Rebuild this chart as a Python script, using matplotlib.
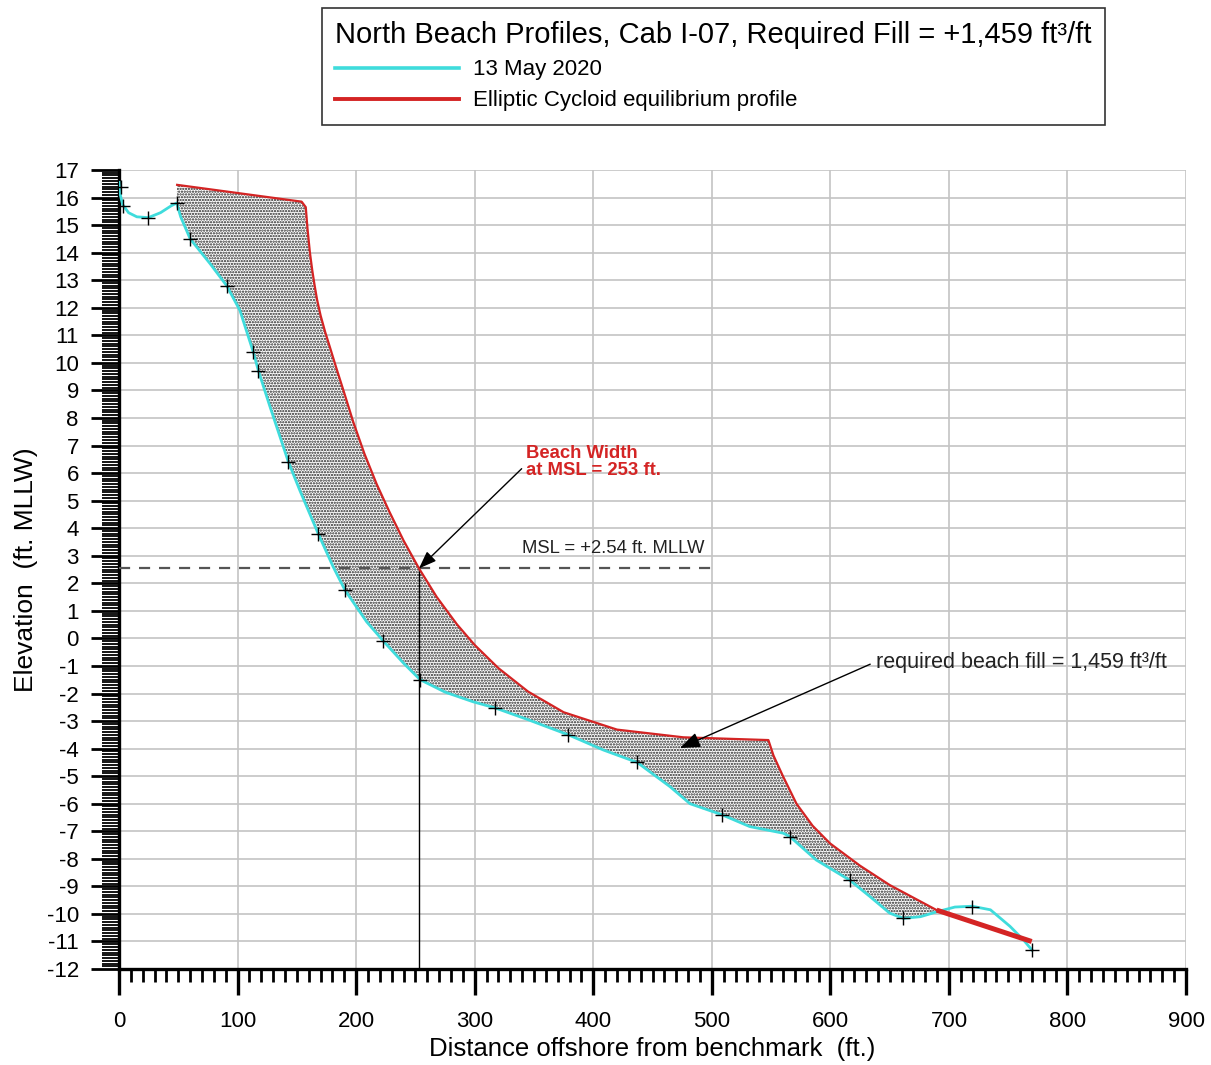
import matplotlib
matplotlib.use("Agg")
import matplotlib.pyplot as plt
import numpy as np
from matplotlib.lines import Line2D
from matplotlib.ticker import MultipleLocator

plt.rcParams['font.family'] = ['Liberation Sans', 'DejaVu Sans']
plt.rcParams['axes.unicode_minus'] = False
plt.rcParams['hatch.linewidth'] = 1.1

# survey of 13 May 2020 (distance ft, elevation ft MLLW)
survey_x = [0, 0.5, 3, 8, 15, 24.7, 35, 44, 48.6, 52, 60, 76.8, 90.8, 102, 113.3, 117.5,
            127.4, 142.8, 152.7, 168, 180.6, 190.6, 208.9, 223, 240, 254, 275, 298.6, 317,
            345, 379, 408.5, 437, 464.7, 481.6, 508.5, 532, 560.3, 566, 588, 616.5, 633.4,
            650, 661.5, 676, 690, 705, 719.5, 735, 751.5, 763, 770]
survey_z = [16.55, 16.2, 15.75, 15.45, 15.3, 15.27, 15.45, 15.7, 15.8, 15.3, 14.5, 13.6, 12.8,
            11.9, 10.38, 9.72, 8.4, 6.41, 5.35, 3.8, 2.6, 1.75, 0.6, -0.1, -0.9, -1.5, -1.95,
            -2.3, -2.52, -2.95, -3.5, -4.05, -4.5, -5.38, -6.0, -6.4, -6.83, -7.07, -7.2,
            -8.04, -8.78, -9.37, -9.97, -10.16, -10.1, -9.92, -9.75, -9.72, -9.85, -10.45,
            -10.95, -11.31]

# surveyed points shown with crosses
pts_x = [2, 3.5, 24.7, 48.6, 60, 90.8, 113.3, 117.5, 142.8, 168, 190.6, 223, 254, 317, 379,
         437, 508.5, 566, 616.5, 661.5, 719.5, 770]
pts_z = [16.4, 15.7, 15.27, 15.8, 14.5, 12.8, 10.38, 9.72, 6.41, 3.8, 1.75, -0.1, -1.5, -2.52,
         -3.5, -4.5, -6.41, -7.2, -8.78, -10.16, -9.75, -11.31]

# elliptic cycloid equilibrium profile
eq_x = [49, 154, 157.5, 159, 161, 163, 165, 167, 170, 174, 178, 183, 190, 197.6, 207, 217.3,
        228, 240, 253, 268, 285, 300, 320, 345, 375, 420, 476, 547.7, 552, 560, 571.4,
        585, 599.7, 625, 650, 689.6]
eq_z = [16.46, 15.85, 15.65, 14.85, 14.0, 13.35, 12.8, 12.3, 11.72, 11.1, 10.55, 9.85, 8.9,
        7.85, 6.7, 5.6, 4.6, 3.55, 2.54, 1.5, 0.51, -0.24, -1.08, -1.93, -2.68, -3.31, -3.59,
        -3.69, -4.25, -5.0, -6.0, -6.8, -7.44, -8.25, -8.95, -9.86]
tail_x = [689.6, 769.8]
tail_z = [-9.86, -11.0]

msl = 2.54
beach_width = 253
fill_volume = "1,459"

cyan = '#3fdcdc'
red = '#d42424'

fig = plt.figure(figsize=(12.11, 10.65), dpi=100)
ax = fig.add_axes([0.0983, 0.0901, 0.8811, 0.7503])

# fill region between survey and equilibrium profile
sx = np.array(survey_x)
sz = np.array(survey_z)
keep = (sx >= eq_x[0] - 0.5) & (sx <= eq_x[-1])
poly_x = list(eq_x) + list(sx[keep][::-1])
poly_z = list(eq_z) + list(sz[keep][::-1])
ax.fill(poly_x, poly_z, facecolor='white', edgecolor='#222222', hatch='......', linewidth=0, zorder=2)

ax.plot(survey_x, survey_z, color=cyan, lw=2.0, zorder=3)
ax.plot(eq_x, eq_z, color=red, lw=1.6, zorder=4)
ax.plot(tail_x, tail_z, color=red, lw=3.6, zorder=4, solid_capstyle='butt')
ax.plot(pts_x, pts_z, ls='none', marker='+', ms=10, mew=1.0, color='black', zorder=5)

# mean sea level and beach width
ax.plot([0, 500], [msl, msl], ls=(0, (5, 4)), color='#555555', lw=1.6, zorder=3)
ax.plot([beach_width, beach_width], [-12, msl], color='black', lw=1.0, zorder=3)
ax.text(340, 2.95, 'MSL = +2.54 ft. MLLW', fontsize=13.3, color='#222222', ha='left', va='bottom')

ax.annotate('Beach Width\nat MSL = %d ft.' % beach_width, xy=(beach_width, msl),
            xytext=(343, 6.4), fontsize=13.3, fontweight='bold', color=red,
            ha='left', va='center', linespacing=0.95,
            arrowprops=dict(arrowstyle='-|>,head_length=0.8,head_width=0.3', color='black', lw=1.0,
                            shrinkA=0, shrinkB=0, relpos=(-0.03, 0.3)), zorder=6)
ax.annotate('required beach fill = %s ft³/ft' % fill_volume, xy=(473, -3.98),
            xytext=(638.5, -0.86), fontsize=15.5, color='#222222', ha='left', va='center',
            arrowprops=dict(arrowstyle='-|>,head_length=0.8,head_width=0.3', color='black', lw=1.0,
                            shrinkA=0, shrinkB=0, relpos=(-0.02, 0.4)), zorder=6)

ax.set_xlim(0, 900)
ax.set_ylim(-12, 17)
ax.xaxis.set_major_locator(MultipleLocator(100))
ax.xaxis.set_minor_locator(MultipleLocator(10))
ax.yaxis.set_major_locator(MultipleLocator(1))
ax.yaxis.set_minor_locator(MultipleLocator(0.1))
ax.tick_params(axis='x', which='major', direction='out', length=19, width=2.4, labelsize=16, pad=11)
ax.tick_params(axis='x', which='minor', direction='out', length=9.5, width=2.0)
ax.tick_params(axis='y', which='major', direction='out', length=20, width=2.0, labelsize=16, pad=9)
ax.tick_params(axis='y', which='minor', direction='out', length=12, width=1.3)
for s in ['top', 'right']:
    ax.spines[s].set_visible(False)
for s in ['left', 'bottom']:
    ax.spines[s].set_linewidth(2.4)
ax.grid(True, which='major', color='#c4c4c4', lw=1.2, zorder=0)
ax.set_axisbelow(True)

ax.set_xlabel('Distance offshore from benchmark  (ft.)', fontsize=18.5, labelpad=4)
ax.set_ylabel('Elevation  (ft. MLLW)', fontsize=19, labelpad=6)

handles = [Line2D([], [], color=cyan, lw=2.6), Line2D([], [], color=red, lw=2.8)]
leg = fig.legend(handles, ['13 May 2020', 'Elliptic Cycloid equilibrium profile'],
                 title='North Beach Profiles, Cab I-07, Required Fill = +%s ft³/ft' % fill_volume,
                 loc='upper center', bbox_to_anchor=(0.589, 0.9925), borderaxespad=0,
                 fontsize=16, title_fontsize=21, handlelength=5.6, handletextpad=0.6,
                 alignment='left', fancybox=False, edgecolor='#333333', framealpha=1,
                 borderpad=0.6, labelspacing=0.45)
leg.get_frame().set_linewidth(1.2)

fig.savefig('out.png', dpi=100)
